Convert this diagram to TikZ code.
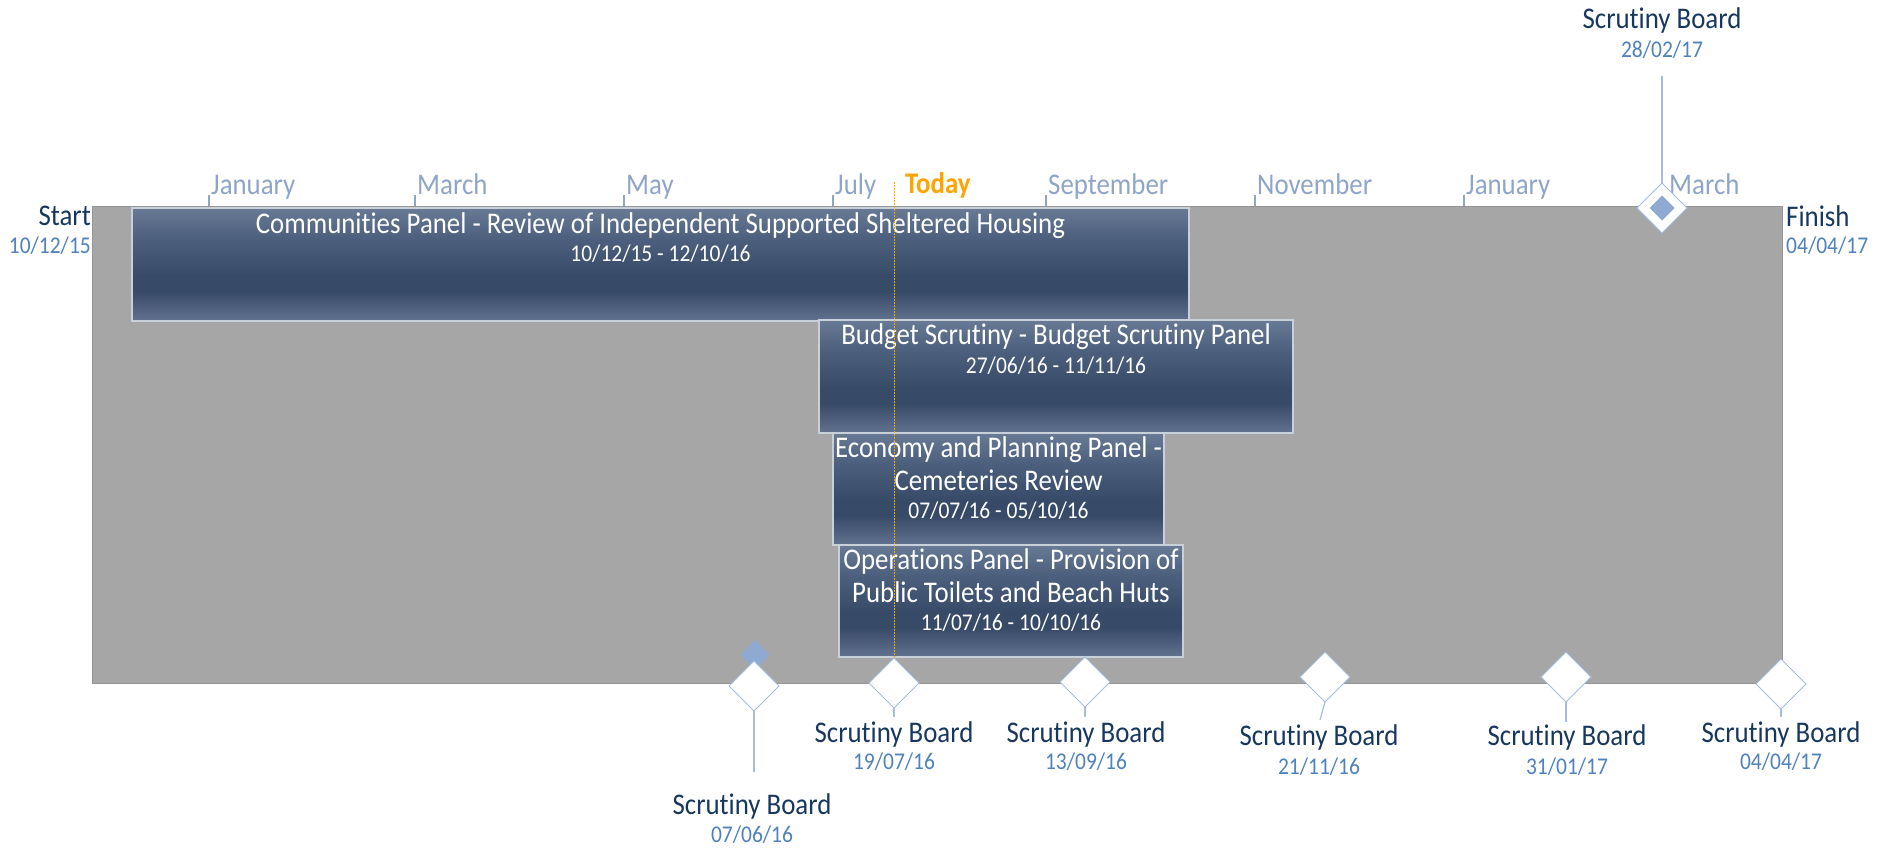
\documentclass[tikz,border=0pt]{standalone}
\usepackage{fontspec}
\setmainfont{Carlito}[FakeStretch=0.895, Ligatures=NoCommon]
\usetikzlibrary{shapes.geometric}
\definecolor{navy}{HTML}{17375E}
\definecolor{dateblue}{HTML}{4F81BD}
\definecolor{monthblue}{HTML}{8EA5C8}
\definecolor{todayorange}{HTML}{FFA300}
\definecolor{panelgray}{HTML}{A6A6A6}
\definecolor{paneledge}{HTML}{959595}
\definecolor{msedge}{HTML}{A4BDE0}
\definecolor{msfill}{HTML}{8FAAD0}
\definecolor{baredge}{HTML}{C8D0DA}
\definecolor{barouter}{HTML}{6E7886}
\definecolor{bartop}{HTML}{687A94}
\definecolor{barmid}{HTML}{4D607E}
\definecolor{bardark}{HTML}{374A68}
\definecolor{barbot}{HTML}{627390}
\pgfdeclareverticalshading{barshade}{100bp}{color(0bp)=(barbot); color(25bp)=(barbot); color(38bp)=(bardark); color(45bp)=(bardark); color(62bp)=(barmid); color(75bp)=(bartop); color(100bp)=(bartop)}
\begin{document}
\begin{tikzpicture}[x=1pt,y=-1pt,
  panel/.style={rectangle, fill=panelgray, draw=paneledge, line width=1pt, inner sep=0pt, outer sep=0pt},
  barbox/.style={rectangle, shading=barshade, draw=barouter, line width=0.7pt, double=baredge, double distance=1.4pt, inner sep=0pt, outer sep=0pt},
  bartitle/.style={anchor=base, text=white, inner sep=0pt, font=\fontsize{30}{34}\selectfont},
  bardate/.style={anchor=base, text=white, inner sep=0pt, font=\fontsize{24}{28}\selectfont},
  mainlbl/.style={anchor=base, text=navy, inner sep=0pt, font=\fontsize{30}{34}\selectfont},
  datelbl/.style={anchor=base, text=dateblue, inner sep=0pt, font=\fontsize{24}{28}\selectfont},
  monthlbl/.style={anchor=base west, text=monthblue, inner sep=0pt, font=\fontsize{30}{34}\selectfont},
  monthtick/.style={draw=monthblue, line width=1.2pt},
  msbox/.style={diamond, aspect=1, fill=white, draw=msedge, line width=1pt, inner sep=0pt, outer sep=0pt, minimum width=50pt, minimum height=50pt},
  msinner/.style={diamond, aspect=1, fill=msfill, draw=none, inner sep=0pt, outer sep=0pt, minimum width=26pt, minimum height=26pt},
  stem/.style={draw=msedge, line width=1.2pt},
  todayline/.style={draw=todayorange, line width=1pt, dash pattern=on 2pt off 1pt}
]
\useasboundingbox (0,0) rectangle (1885,847);

% background panel
\node[panel, minimum width=1690pt, minimum height=477pt] (panel) at (937,444.5) {};

% month ticks and labels
\foreach \x/\m [count=\i] in {209/January,415/March,624/May,833/July,1046/September,1255/November,1464/January,1667/March}{
  \draw[monthtick] (\x,195) -- (\x,206);
  \node[monthlbl] (month\i) at (\x+2,194) {\m};
}

% bars
\node[barbox, minimum width=1057pt, minimum height=113pt] (bar1) at (660.5,264.5) {};
\node[barbox, minimum width=474pt, minimum height=113pt] (bar2) at (1056,376.5) {};
\node[barbox, minimum width=331pt, minimum height=112pt] (bar3) at (998.5,489) {};
\node[barbox, minimum width=344pt, minimum height=112pt] (bar4) at (1011,601) {};

\node[bartitle] (bar1t) at (660.5,233) {Communities Panel - Review of Independent Supported Sheltered Housing};
\node[bardate] (bar1d) at (660.5,261) {10/12/15 - 12/10/16};
\node[bartitle] (bar2t) at (1056,344) {Budget Scrutiny - Budget Scrutiny Panel};
\node[bardate] (bar2d) at (1056,373) {27/06/16 - 11/11/16};
\node[bartitle] (bar3t) at (998.5,457) {Economy and Planning Panel -};
\node[bartitle] (bar3u) at (998.5,490) {Cemeteries Review};
\node[bardate] (bar3d) at (998.5,518) {07/07/16 - 05/10/16};
\node[bartitle] (bar4t) at (1011,569) {Operations Panel - Provision of};
\node[bartitle] (bar4u) at (1011,602) {Public Toilets and Beach Huts};
\node[bardate] (bar4d) at (1011,630) {11/07/16 - 10/10/16};

% today
\node[anchor=base west, text=todayorange, inner sep=0pt, font=\fontsize{30}{34}\selectfont\bfseries] (today) at (905,193.5) {Today};
\coordinate (todaytop) at (894,182);
\coordinate (todaybot) at (894,658);
\draw[todayline] (todaytop) -- (todaybot);

% start / finish
\node[mainlbl, anchor=base east] (start) at (91,225) {Start};
\node[datelbl, anchor=base east] (startd) at (91,253) {10/12/15};
\node[mainlbl, anchor=base west] (finish) at (1786,226) {Finish};
\node[datelbl, anchor=base west] (finishd) at (1786,253) {04/04/17};

% milestones
\node[msinner, minimum width=29pt, minimum height=30pt] (ms1i) at (755,655) {};
\node[msbox] (ms1) at (754,686) {};
\node[msbox] (ms2) at (894,683) {};
\node[msbox] (ms3) at (1085,682) {};
\node[msbox] (ms4) at (1325,677) {};
\node[msbox] (ms5) at (1566,677) {};
\node[msbox] (ms6) at (1781,684) {};
\node[msbox] (ms7) at (1662,208) {};
\node[msinner, minimum width=25pt, minimum height=25pt] (ms7i) at (1662,208) {};

\coordinate (ms1s) at (754,772);
\coordinate (ms2s) at (894,717);
\coordinate (ms3s) at (1085,717);
\coordinate (ms4s) at (1320,720);
\coordinate (ms5s) at (1566,722);
\coordinate (ms6s) at (1781,717);
\coordinate (ms7s) at (1662,76);
\draw[stem] (ms1.south) -- (ms1s);
\draw[stem] (ms2.south) -- (ms2s);
\draw[stem] (ms3.south) -- (ms3s);
\draw[stem] (ms4.south) -- (ms4s);
\draw[stem] (ms5.south) -- (ms5s);
\draw[stem] (ms6.south) -- (ms6s);
\draw[stem] (ms7.north) -- (ms7s);

\node[mainlbl] (ms1l) at (752,814) {Scrutiny Board};
\node[datelbl] (ms1d) at (752,842) {07/06/16};
\node[mainlbl] (ms2l) at (894,742) {Scrutiny Board};
\node[datelbl] (ms2d) at (894,769) {19/07/16};
\node[mainlbl] (ms3l) at (1086,742) {Scrutiny Board};
\node[datelbl] (ms3d) at (1086,769) {13/09/16};
\node[mainlbl] (ms4l) at (1319,745) {Scrutiny Board};
\node[datelbl] (ms4d) at (1319,774) {21/11/16};
\node[mainlbl] (ms5l) at (1567,745) {Scrutiny Board};
\node[datelbl] (ms5d) at (1567,774) {31/01/17};
\node[mainlbl] (ms6l) at (1781,742) {Scrutiny Board};
\node[datelbl] (ms6d) at (1781,769) {04/04/17};
\node[mainlbl] (ms7l) at (1662,28) {Scrutiny Board};
\node[datelbl] (ms7d) at (1662,57) {28/02/17};
\end{tikzpicture}
\end{document}
